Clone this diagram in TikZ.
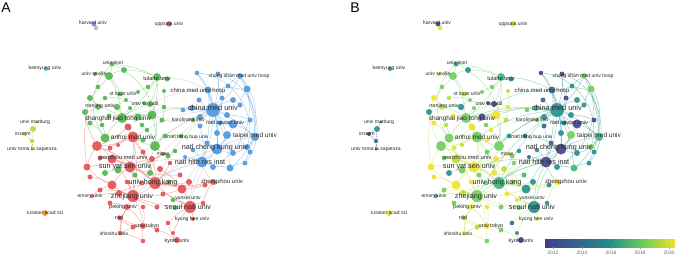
\documentclass[tikz,border=0pt]{standalone}
\usepackage{fontspec}
\setmainfont{Liberation Sans}
\usetikzlibrary{backgrounds}
\definecolor{clred}{RGB}{228,76,76}
\definecolor{clgreen}{RGB}{78,180,74}
\definecolor{clblue}{RGB}{74,150,222}
\definecolor{clyellow}{RGB}{196,206,58}
\definecolor{clpurple}{RGB}{158,118,206}
\definecolor{clbrown}{RGB}{178,86,86}
\definecolor{clorange}{RGB}{232,150,40}
\definecolor{clcyan}{RGB}{60,176,206}
\definecolor{vA}{RGB}{66,64,134}
\definecolor{vB}{RGB}{52,100,142}
\definecolor{vC}{RGB}{36,142,140}
\definecolor{vCD}{RGB}{56,182,120}
\definecolor{vD}{RGB}{110,204,90}
\definecolor{vDE}{RGB}{184,222,44}
\definecolor{vE}{RGB}{238,226,40}
\pgfdeclarehorizontalshading{viridis}{100bp}{color(0bp)=(vA); color(25bp)=(vA); color(37.5bp)=(vB); color(50bp)=(vC); color(62.5bp)=(vD); color(75bp)=(vE); color(100bp)=(vE)}
\tikzset{
  bubble/.style={circle, inner sep=0pt, fill opacity=0.9},
  link/.style={line width=0.25pt, draw opacity=0.5},
  lbl/.style={inner sep=0pt, text=black!85},
  panelname/.style={inner sep=0pt, font=\fontsize{8}{8}\selectfont},
  barlbl/.style={inner sep=0pt, text=black!60, font=\fontsize{2.8}{3}\selectfont}
}
% id/x/y/radius/cluster colour/year colour
\def\netnodes{hv1/94/24/2.5/clpurple/vA, hv2/96/28/2.3/clpurple!60/vE, up/169/24/2.7/clbrown/vE,
  km/46/69/2/clcyan/vC, y1/37/122/1.5/clyellow/vC, y2/33/129/3/clyellow/vC, y3/25/134/2/clyellow/vA,
  y4/32/141/2.2/clyellow/vB, y5/32/149/1.5/clyellow/vA, rs/45/213/3/clorange/vE,
  le/112/64/2.5/clgreen/vC, g1/124/70/3/clgreen/vC, sv/109/76/4/clgreen/vD, sv2/95/74/2/clgreen/vE,
  tu/157/77/4/clgreen/vCD, g2/167/79/2.5/clgreen/vC, g3/98/87/2.3/clgreen/vD, g4/148/87/2.3/clgreen/vD,
  sl/120/94/2.5/clgreen/vDE, g5/138/92/2/clgreen/vD, g6/164/91/2/clgreen/vDE, g7/90/98/3/clgreen/vE,
  g8/105/98/2.3/clgreen/vDE, g9/126/100/2/clgreen/vD, g10/144/103/2/clgreen/vB, sc/150/104/3/clgreen/vA,
  g11/164/107/2.3/clgreen/vE, nj/98/107/2.8/clgreen/vDE, g12/117/107/3.2/clgreen/vC, g13/85/112/3/clgreen/vC,
  g14/130/108/2/clgreen/vD, g15/109/116/2.5/clgreen/vE, sj/122/118/5/clgreen/vD, g16/138/117/3.5/clgreen/vA,
  g17/152/115/4.5/clgreen/vE, g18/162/120/2.5/clgreen/vDE, g19/90/123/2.5/clgreen/vE, g20/102/125/2.3/clgreen/vDE,
  r1/128/127/3.5/clred/vE, g21/142/125/2.3/clgreen/vD, g22/147/130/2.3/clgreen/vE, g23/105/138/4.5/clgreen/vD,
  am/133/137/5.5/clred/vD, r5/143/140/2.5/clgreen/vE, g24/155/146/5/clgreen/vD, g25/165/136/2.5/clgreen/vC,
  th/181/136/2.3/clgreen/vB, ki/193/120/2.3/clgreen/vD, r2/97/146/5/clred/vD, r3/110/148/2.5/clred/vE,
  r4/118/145/2/clred/vDE, r6/87/167/3.5/clred/vE, r7/90/177/2.5/clred/vE, r8/100/158/2.5/clred/vD,
  wz/112/159/4.5/clred/vDE, g27/105/173/3/clgreen/vC, g28/118/170/3.5/clgreen/vD, sy/130/167/5.5/clred/vE,
  g29/135/175/2.5/clgreen/vD, g30/150/173/3/clgreen/vE, r10/152/159/3/clred/vE, r11/160/169/3/clred/vDE,
  r12/143/152/2.5/clred/vD, mc/163/154/2/clred/vE, g31/168/156/2.5/clgreen/vD, g32/175/151/2.3/clgreen/vC,
  r13/170/163/2.3/clred/vD, r14/180/175/2.5/clred/vCD, r15/189/182/3/clred/vC, r16/182/189/4.5/clred/vC,
  g33/169/182/2.5/clgreen/vD, hk/155/183/6/clred/vCD, r17/142/183/2.5/clred/vD, r18/127/182/2.3/clred/vE,
  r19/112/185/4.5/clred/vE, r20/100/190/2.5/clred/vD, r21/119/193/3/clred/vDE, zj/133/196/6/clred/vD,
  r22/163/194/2.5/clred/vE, ys/173/200/2.3/clgreen/vE, sn/190/207/6/clred/vC, g34/175/208/2.3/clgreen/vD,
  r23/157/207/2.5/clred/vD, r24/143/207/2.3/clred/vE, pk/127/207/3/clred/vE, r25/110/203/2.5/clred/vD,
  ni/120/218/2.5/clred/vDE, r26/133/227/2.5/clred/vDE, ut/143/226/3/clred/vE, r27/157/230/2.5/clred/vD,
  sh/120/233/2.3/clred/vE, r28/143/241/2.3/clred/vD, ky/177/240/3/clred/vA, r29/168/223/2.3/clred/vB,
  kh/193/219/2/clred/vE, r30/173/233/2/clred/vC, r31/203/203/2.3/clred/vC, zz/213/182/3/clred/vE,
  r32/205/185/2.5/clred/vC, em/92/196/2/clred/vC,
  b1/197/73/2.3/clblue/vA, b2/218/74/2.5/clblue/vA, cs/240/76/3/clblue/vD, b3/247/89/3.5/clblue/vD,
  b4/228/86/2.5/clblue/vC, ch/208/90/3.5/clblue/vB, b5/199/100/2.5/clblue/vB, b6/222/98/2.5/clblue/vA,
  b7/233/100/3/clblue/vC, b8/240/105/2.5/clblue/vC, cm/213/110/7/clblue/vC, b9/192/108/3/clblue/vCD,
  b10/183/110/2.3/clblue/vD, b11/200/117/3/clblue/vC, b12/227/115/3/clblue/vC, b13/250/120/2.5/clblue/vA,
  nt/233/124/4.5/clblue/vA, b15/220/123/2.5/clblue/vC, b16/200/126/2.5/clblue/vB, b17/217/133/3/clblue/vC,
  b18/227/135/4/clblue/vD, tp/255/137/4/clblue/vCD, b19/247/147/3/clblue/vD, b20/233/153/3/clblue/vC,
  kc/217/149/5.5/clblue/vA, nh/202/162/5.5/clblue/vA, b22/213/167/3/clblue/vC, b23/230/168/3.5/clblue/vCD,
  b24/245/163/2.5/clblue/vC, b25/250/152/2.5/clblue/vC, b26/207/143/2.5/clblue/vB, b27/193/150/2.3/clblue/vC,
  b28/185/157/2/clblue/vB}
\def\redlinks{am/r2, am/sy, am/r1, r1/r2, r2/wz, wz/sy, sy/hk, hk/zj, zj/pk, zj/r19, r19/r6, r6/r2, sy/r10,
  r10/hk, hk/r16, r16/sn, sn/zj, zj/ut, ut/ni, ni/sh, sh/ut, ut/r26, r26/ni, pk/ni, pk/ut, ut/r27, r27/ky,
  ky/r29, r29/sn, sn/kh, sn/r31, r31/zz, zz/hk, zz/r16, r15/hk, r14/sy, r11/r16, r12/am, r12/hk, r8/sy,
  r7/r19, r20/zj, r21/hk, em/zj, em/r19, r17/sy, r18/zj, r22/sn, r23/zj, r24/ut, r25/pk, r28/ut, sh/r28,
  r30/sn, r13/hk, mc/sy, mc/r10, r3/am, r4/am, wz/hk, wz/zj, r2/sy, r2/hk, am/hk, am/zj, sy/zj, r16/zj,
  sn/hk, r6/sy, r19/sy, r32/hk, sh/pk, r1/sj, r2/g13, r6/g7}
\def\greenlinks{le/g1, le/sv, sv/g1, sv/sv2, sv/g3, sv/sl, tu/g2, tu/g4, tu/sc, sl/g5, sl/g9, g5/g4, g3/g7,
  g7/nj, nj/g13, nj/g12, g12/sj, sj/g14, sj/g16, sj/g15, g16/g17, g17/sc, sc/g10, g10/g9, sc/g11, g11/g18,
  g17/g18, g13/g19, g19/g23, g23/sj, g23/am, sj/am, g17/g24, g24/g25, g25/th, g24/am, g21/g22, g22/g24,
  g6/g11, g8/g9, g20/g23, sj/g17, sj/sc, sv/sj, tu/sj, tu/g17, nj/sj, g12/g9, g27/g28, g28/sy, g29/sy,
  g30/g24, g31/g24, g32/g31, g33/hk, ys/sn, g34/sn, ki/g18, r5/am, g1/tu, le/tu}
\def\bluelinks{b1/ch, b2/cs, cs/b3, b3/b4, b4/ch, ch/cm, cm/b5, cm/b6, cm/b7, b7/b8, b8/b3, cm/b9, b9/b10,
  cm/b11, cm/b12, b12/b13, b13/nt, nt/cm, nt/b15, b15/b11, b16/nh, b17/kc, b18/kc, kc/tp, tp/b19, b19/b20,
  b20/kc, kc/nh, nh/b22, b22/b23, b23/b24, b24/b25, b25/tp, b26/kc, b27/nh, b28/nh, cm/kc, cm/nh, cm/tp,
  ch/kc, cs/cm, cs/tp, b2/cm, b1/cm, nt/kc, nt/tp, b3/tp, b6/b2, b4/cs, ch/nh, cm/b17, cm/b18, cm/b23}
\def\mixlinks{sy/nh, hk/nh, am/cm, sj/cm, hk/kc, zj/cm, sn/nh, zz/nh, ki/cm, th/kc, g24/cm, sc/ch, g17/cm,
  r16/kc, hk/cm, sy/cm, sn/kc, zj/nh, tu/ch, g16/cm}
% x/y/size/name/text
\def\netlabels{93/23/2.9/lhv/harvard univ, 169/24/2.9/lup/uppsala univ, 45/68/2.9/lkm/keimyung univ,
  113/63/2.9/lle/univ leon, 94/74/2.9/lsv/univ seville, 157/78/3.2/ltu/tulane univ,
  239/76/2.9/lcs/chung shan med univ hosp, 198/91/3.4/lch/china med univ hosp, 123/94/2.9/lsl/st louis univ,
  145/104/2.9/lsc/univ so calif, 100/106/3.1/lnj/nanjing univ, 213/108/4.2/lcm/china med univ,
  118/119/3.7/lsj/shanghai jiao tong univ, 188/120/2.9/lki/karolinska inst, 225/123/3.1/lnt/natl taiwan univ,
  35/122/2.9/lmb/univ marburg, 23/134/2.9/lin/inserm, 32/149/2.9/lro/univ roma la sapienza,
  133/137/3.7/lam/anhui med univ, 188/137/2.9/lth/natl tsing hua univ, 255/136/3.7/ltp/taipei med univ,
  215/148/4.1/lkc/natl cheng kung univ, 123/157/3.3/lwz/wenzhou med univ, 163/154/2.9/lmc/mcae,
  200/162/4.1/lnh/natl hlth res inst, 125/167/4.1/lsy/sun yat sen univ, 153/183/4.1/lhk/univ hong kong,
  222/182/3.4/lzz/zhengzhou univ, 90/196/2.9/lem/emory univ, 132/197/4.1/lzj/zhejiang univ,
  188/198/2.9/lys/yonsei univ, 123/207/3.1/lpk/peking univ, 188/207/4.1/lsn/seoul natl univ,
  45/213/2.9/lrs/russian acad sci, 192/219/2.9/lkh/kyung hee univ, 119/218/3.1/lni/niid,
  147/226/3.1/lut/univ tokyo, 114/234/2.9/lsh/shinshu univ, 177/241/3.1/lky/kyoto univ}

\begin{document}
\begin{tikzpicture}[x=0.02cm, y=-0.02cm]
  \useasboundingbox (0,0) rectangle (676,255);
  \node[panelname] (lettA) at (6,8) {A};
  \node[panelname] (lettB) at (355,8) {B};
  % clusters (A) and average year (B)
  \foreach \id/\x/\y/\r/\ca/\cb in \netnodes {
    \node[bubble, minimum size=\r*0.04cm, fill=\ca] (A-\id) at (\x,\y) {};
    \node[bubble, minimum size=\r*0.04cm, fill=\cb] (B-\id) at (\x+344,\y) {};
  }
  \foreach \P/\dx/\er/\eg/\eb/\em/\ey in {A/0/clred/clgreen/clblue/black!30/clyellow, B/344/vDE/vD/vC/vCD/vB} {
    \begin{pgfonlayer}{background}
      \foreach \a/\b in \redlinks {\draw[link, draw=\er] (\P-\a) to[bend left=10] (\P-\b);}
      \foreach \a/\b in \greenlinks {\draw[link, draw=\eg] (\P-\a) to[bend left=10] (\P-\b);}
      \foreach \a/\b in \bluelinks {\draw[link, draw=\eb] (\P-\a) to[bend left=10] (\P-\b);}
      \foreach \a/\b in \mixlinks {\draw[link, draw=\em] (\P-\a) to[bend left=12] (\P-\b);}
      \foreach \a/\b in {y1/y2, y2/y3, y2/y4, y3/y4, y4/y5} {\draw[link, draw=\ey] (\P-\a) -- (\P-\b);}
      \draw[link, draw=\eb] (\P-b2) to[bend left=55] (\P-b24);
      \draw[link, draw=\eb] (\P-cs) to[bend left=45] (\P-b23);
      \draw[link, draw=\eb] (\P-b1) to[bend left=50] (\P-b19);
      \draw[link, draw=\eb] (\P-b3) to[bend left=35] (\P-b22);
      \draw[link, draw=\eg] (\P-le) to[bend right=40] (\P-g23);
      \draw[link, draw=\eg] (\P-g1) to[bend left=30] (\P-g24);
    \end{pgfonlayer}
    \foreach \lx/\ly/\ls/\ln/\lt in \netlabels {
      \node[lbl, font=\fontsize{\ls}{\ls}\selectfont] (\P-\ln) at (\lx+\dx,\ly) {\lt};
    }
  }
  % colour bar
  \shade[shading=viridis] (545,239) rectangle (675,247);
  \foreach \yr/\tx in {2012/553, 2014/582, 2016/611, 2018/640, 2020/669} {
    \draw[black!40, line width=0.2pt] (\tx,247) -- (\tx,248.5);
    \node[barlbl] (yr\yr) at (\tx,252.5) {\yr};
  }
\end{tikzpicture}
\end{document}
